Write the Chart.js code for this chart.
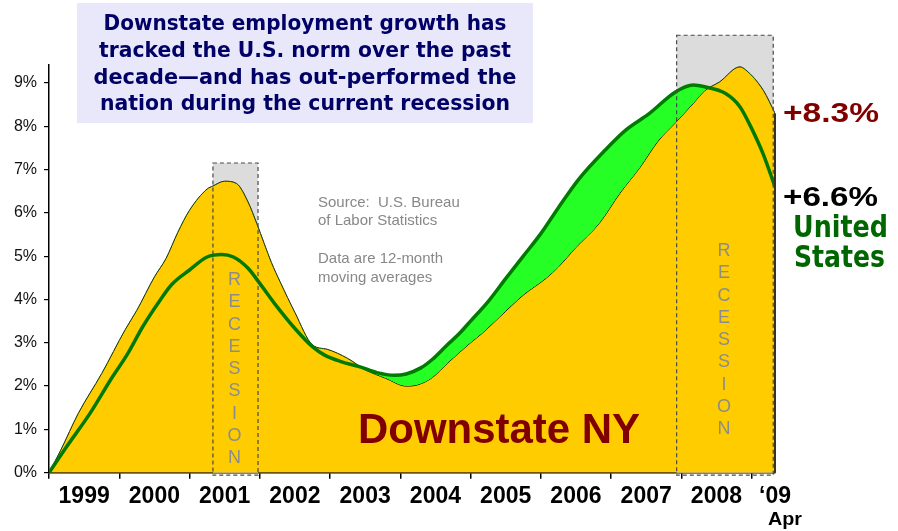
<!DOCTYPE html>
<html>
<head>
<meta charset="utf-8">
<script src="https://cdn.jsdelivr.net/npm/chart.js@4.4.0/dist/chart.umd.min.js"></script>
<style>
  html, body { margin: 0; padding: 0; background: #fff; }
  #wrap { width: 898px; height: 531px; }
</style>
</head>
<body>
<div id="wrap"><canvas id="employmentChart" width="898" height="531"></canvas></div>
<script>
// months since Jan 1999 (x) and cumulative growth in % (y)
const nyMonths = [0, 2, 5, 9, 13, 15, 18, 20, 22, 24, 27, 28, 30, 32, 34, 35.5, 38, 39.5, 42, 45, 47.5, 51, 54, 57.5, 61, 63, 65.5, 68, 72, 74, 77, 81, 85, 87, 90, 94, 97.5, 101, 104, 107, 110, 112, 114.5, 118, 119, 122, 124];
const nyValues = [0, 0.52, 1.37, 2.29, 3.3, 3.75, 4.52, 4.95, 5.55, 6.06, 6.55, 6.62, 6.73, 6.68, 6.25, 5.75, 4.85, 4.4, 3.7, 2.95, 2.85, 2.64, 2.38, 2.18, 2.0, 2.03, 2.2, 2.52, 3.0, 3.22, 3.6, 4.1, 4.5, 4.75, 5.2, 5.76, 6.45, 7.06, 7.65, 8.08, 8.52, 8.82, 9.02, 9.37, 9.3, 8.83, 8.3];

const usMonths = [0, 3, 7, 10.5, 13.5, 16, 19, 21, 24, 27, 29.5, 31.5, 34, 36, 38.5, 42, 45, 47, 50, 53, 56, 59, 61, 63.5, 65.5, 68, 70, 72, 75, 78, 81, 84, 87, 90.5, 95, 98.5, 102.5, 107, 110, 112, 115.5, 118, 120, 122, 124];
const usValues = [0, 0.6, 1.37, 2.14, 2.76, 3.37, 3.99, 4.35, 4.68, 4.98, 5.04, 4.98, 4.72, 4.37, 3.91, 3.33, 2.91, 2.72, 2.56, 2.45, 2.31, 2.25, 2.28, 2.42, 2.62, 2.95, 3.2, 3.5, 3.95, 4.48, 5.0, 5.52, 6.12, 6.78, 7.45, 7.91, 8.29, 8.79, 8.95, 8.91, 8.76, 8.45, 7.95, 7.35, 6.6];

const yearStarts = [0, 12, 24, 36, 48, 60, 72, 84, 96, 108, 120];
const yearLabelPos = [6, 18, 30, 42, 54, 66, 78, 90, 102, 114, 124];
const yearLabels = ['1999', '2000', '2001', '2002', '2003', '2004', '2005', '2006', '2007', '2008', '\u201809'];
const yTicks = [0, 1, 2, 3, 4, 5, 6, 7, 8, 9];

const recessionStart = [28, 107.2];
const recessionEnd = [35.7, 123.7];
const recessionTop = [7.15, 10.1];

const titleLines = [
    'Downstate employment growth has',
    'tracked the U.S. norm over the past',
    'decade\u2014and has out-performed the',
    'nation during the current recession'
];

const SANS = '"Liberation Sans", Arial, sans-serif';
const WIDE = '"DejaVu Sans", Verdana, sans-serif';

function fitText(ctx, text, x, y, width, font, color, align) {
    ctx.save();
    ctx.font = font;
    ctx.fillStyle = color;
    ctx.textBaseline = 'alphabetic';
    ctx.textAlign = 'left';
    const k = width / ctx.measureText(text).width;
    const left = align === 'center' ? x - width / 2 : x;
    ctx.translate(left, y);
    ctx.scale(k, 1);
    ctx.fillText(text, 0, 0);
    ctx.restore();
}

const overlay = {
    id: 'overlay',
    beforeDatasetsDraw(chart) {
        const { ctx, scales: { x, y } } = chart;
        ctx.save();
        ctx.fillStyle = '#dcdcdc';
        recessionStart.forEach((s, i) => {
            const l = x.getPixelForValue(s);
            const r = x.getPixelForValue(recessionEnd[i]);
            const t = y.getPixelForValue(recessionTop[i]);
            const b = y.getPixelForValue(0);
            ctx.fillRect(l, t, r - l, b - t);
        });
        ctx.restore();
    },
    afterDatasetsDraw(chart) {
        const { ctx, scales: { x, y } } = chart;
        ctx.save();
        // right edge of the Downstate area
        const ex = x.getPixelForValue(nyMonths[nyMonths.length - 1]);
        ctx.strokeStyle = '#3a3320';
        ctx.lineWidth = 2;
        ctx.beginPath();
        ctx.moveTo(ex, y.getPixelForValue(nyValues[nyValues.length - 1]));
        ctx.lineTo(ex, y.getPixelForValue(0));
        ctx.stroke();

        // recession outlines
        ctx.strokeStyle = '#4a4a4a';
        ctx.lineWidth = 1.2;
        ctx.setLineDash([4, 3]);
        recessionStart.forEach((s, i) => {
            const l = x.getPixelForValue(s);
            const r = x.getPixelForValue(recessionEnd[i]);
            const t = y.getPixelForValue(recessionTop[i]);
            const b = y.getPixelForValue(0) + 2.5;
            ctx.strokeRect(l, t, r - l, b - t);
        });
        ctx.setLineDash([]);

        // vertical RECESSION labels
        ctx.fillStyle = '#8c8c8c';
        ctx.font = '18px ' + SANS;
        ctx.textAlign = 'center';
        ctx.textBaseline = 'middle';
        const firstLetterY = [280, 251];
        recessionStart.forEach((s, i) => {
            const cx = (x.getPixelForValue(s) + x.getPixelForValue(recessionEnd[i])) / 2 - 1;
            'RECESSION'.split('').forEach((ch, j) => {
                ctx.fillText(ch, cx, firstLetterY[i] + j * 22.3);
            });
        });
        ctx.restore();
    },
    afterDraw(chart) {
        const { ctx } = chart;
        ctx.save();
        // title box
        ctx.fillStyle = '#e8e8fa';
        ctx.fillRect(77, 3, 456, 120);
        const titleWidths = [403, 412, 423, 410];
        const titleBase = [29.5, 56.7, 83.5, 110];
        titleLines.forEach((t, i) => {
            fitText(ctx, t, 305, titleBase[i], titleWidths[i], 'bold 21px ' + WIDE, '#000066', 'center');
        });

        // source note
        ctx.fillStyle = '#888888';
        ctx.font = '15px ' + SANS;
        ctx.textAlign = 'left';
        ctx.textBaseline = 'alphabetic';
        ctx.fillText('Source:  U.S. Bureau', 318, 206.5);
        ctx.fillText('of Labor Statistics', 318, 225);
        ctx.fillText('Data are 12-month', 318, 263);
        ctx.fillText('moving averages', 318, 281.5);

        // series labels
        fitText(ctx, 'Downstate NY', 358, 442.7, 282, 'bold 42px ' + SANS, '#800000', 'left');
        fitText(ctx, '+8.3%', 783, 121.7, 96, 'bold 28px ' + SANS, '#800000', 'left');
        fitText(ctx, '+6.6%', 783, 206, 95, 'bold 28px ' + SANS, '#000000', 'left');
        fitText(ctx, 'United', 840.5, 236.7, 95, 'bold 31px ' + WIDE, '#006600', 'center');
        fitText(ctx, 'States', 839.5, 266.7, 91, 'bold 31px ' + WIDE, '#006600', 'center');

        // month under the last year label
        fitText(ctx, 'Apr', 785, 525, 34, 'bold 19px ' + SANS, '#000000', 'center');
        ctx.restore();
    }
};

const ctx = document.getElementById('employmentChart');
new Chart(ctx, {
    type: 'line',
    data: {
        datasets: [{
            label: 'Downstate NY',
            data: nyMonths.map((m, i) => ({ x: m, y: nyValues[i] })),
            borderColor: '#000000',
            borderWidth: 1,
            backgroundColor: '#ffcc00',
            fill: 'origin',
            pointRadius: 0,
            cubicInterpolationMode: 'monotone',
            order: 2
        }, {
            label: 'United States',
            data: usMonths.map((m, i) => ({ x: m, y: usValues[i] })),
            borderColor: '#007a00',
            borderWidth: 3.5,
            fill: { target: 0, above: '#26ff26', below: 'rgba(0,0,0,0)' },
            pointRadius: 0,
            cubicInterpolationMode: 'monotone',
            order: 1
        }]
    },
    options: {
        responsive: false,
        animation: false,
        layout: { padding: { left: 0, right: 123, top: 64.7, bottom: 0 } },
        plugins: {
            legend: { display: false },
            tooltip: { enabled: false }
        },
        scales: {
            x: {
                type: 'linear',
                min: 0,
                max: 124,
                afterBuildTicks: s => { s.ticks = yearStarts.map(v => ({ value: v })); },
                ticks: { display: false },
                grid: { drawOnChartArea: false, color: '#000', tickLength: 6, lineWidth: 1.5 },
                border: { color: '#000', width: 2.5 },
                afterFit: s => { s.height = 6; }
            },
            x2: {
                type: 'linear',
                position: 'bottom',
                min: 0,
                max: 124,
                afterBuildTicks: s => { s.ticks = yearLabelPos.map(v => ({ value: v })); },
                ticks: {
                    callback: (v, i) => yearLabels[i],
                    font: { family: SANS, size: 23, weight: 'bold' },
                    color: '#000',
                    maxRotation: 0,
                    autoSkip: false,
                    padding: 4
                },
                grid: { display: false, drawTicks: false },
                border: { display: false },
                afterFit: s => { s.height = 531 - 472.7 - 6; }
            },
            y: {
                min: 0,
                max: 9.42,
                afterBuildTicks: s => { s.ticks = yTicks.map(v => ({ value: v })); },
                ticks: {
                    callback: v => v + '%',
                    font: { family: SANS, size: 16 },
                    color: '#111',
                    padding: 7
                },
                grid: { drawOnChartArea: false, color: '#000', tickLength: 5, lineWidth: 1.2 },
                border: { color: '#000', width: 1.5 },
                afterFit: s => { s.width = 49; }
            }
        }
    },
    plugins: [overlay]
});
</script>
</body>
</html>
